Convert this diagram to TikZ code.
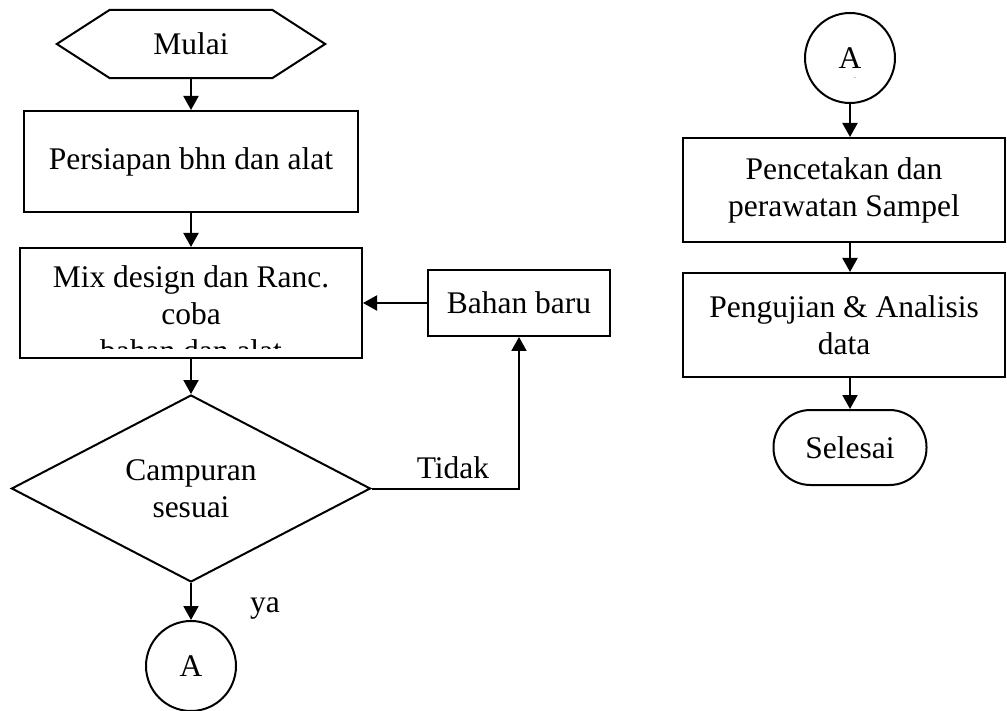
\documentclass[tikz,border=0pt]{standalone}
\usepackage{fontspec}
\setmainfont{Liberation Serif}
\usetikzlibrary{shapes.geometric,arrows.meta,calc}
\begin{document}
\begin{tikzpicture}[x=1pt,y=-1pt,
  every node/.style={font=\fontsize{31.5}{37}\selectfont, inner sep=0pt},
  proc/.style={draw, line width=2pt, rectangle, align=center},
  line/.style={line width=2pt},
  conn/.style={line width=2pt, -{Triangle[length=14pt,width=15pt]}}]
\useasboundingbox (0,0) rectangle (1007,711);

% left column
\node[minimum width=268pt, minimum height=68pt] (start) at (191,44) {Mulai};
\draw[line, line join=miter] (start.west) -- ($(start.north west)+(53,0)$) -- ($(start.north east)+(-53,0)$) -- (start.east) -- ($(start.south east)+(-53,0)$) -- ($(start.south west)+(53,0)$) -- cycle;

\node[proc, minimum width=334pt, minimum height=101pt] (prep) at (191,161.5) {Persiapan bhn dan alat};

\node[draw, line width=2pt, minimum width=342pt, minimum height=110pt] (mix) at (191,303) {};
\node[anchor=base] (mixa) at (191,288) {Mix design dan Ranc.};
\node[anchor=base] (mixb) at (191,325) {coba};
\begin{scope}
  \clip (22,250) rectangle (360,349);
  \node[anchor=base] (mixc) at (191,362) {bahan dan alat};
\end{scope}

\node[draw, shape=diamond, line width=2pt, aspect=1.92, minimum width=359pt, minimum height=187pt, align=center] (dec) at (191,488.5) {Campuran\\sesuai};

\node[proc, minimum width=182pt, minimum height=66pt] (new) at (519,303) {Bahan baru};

\node[draw, circle, line width=2pt, minimum size=90pt] (a1) at (191,666) {A};

\draw[conn] (start.south) -- (prep.north);
\draw[conn] (prep.south) -- (mix.north);
\draw[conn] (mix.south) -- (dec.north);
\draw[conn] (dec.south) -- (a1.north);
\draw[conn] (new.west) -- (mix.east);
\draw[conn] (dec.east) -| (new.south);
\node[anchor=base] (tidak) at (453,478) {Tidak};
\node[anchor=base west] (ya) at (250,612) {ya};

% right column
\node[draw, circle, line width=2pt, minimum size=90pt] (a2) at (850,58) {A};
\node[font=\fontsize{5}{5}\selectfont] (dot) at (855,79) {-};
\node[proc, minimum width=322pt, minimum height=104pt] (cetak) at (844,190) {Pencetakan dan\\perawatan Sampel};
\node[proc, minimum width=322pt, minimum height=104pt] (uji) at (844,325) {Pengujian \& Analisis\\data};
\node[draw, line width=2pt, rounded corners=37pt, minimum width=153pt, minimum height=75pt] (end) at (850,447.5) {Selesai};

\draw[conn] (a2.south) -- (a2.south |- cetak.north);
\draw[conn] (cetak.south -| a2.south) -- (uji.north -| a2.south);
\draw[conn] (uji.south -| end.north) -- (end.north);
\end{tikzpicture}
\end{document}
